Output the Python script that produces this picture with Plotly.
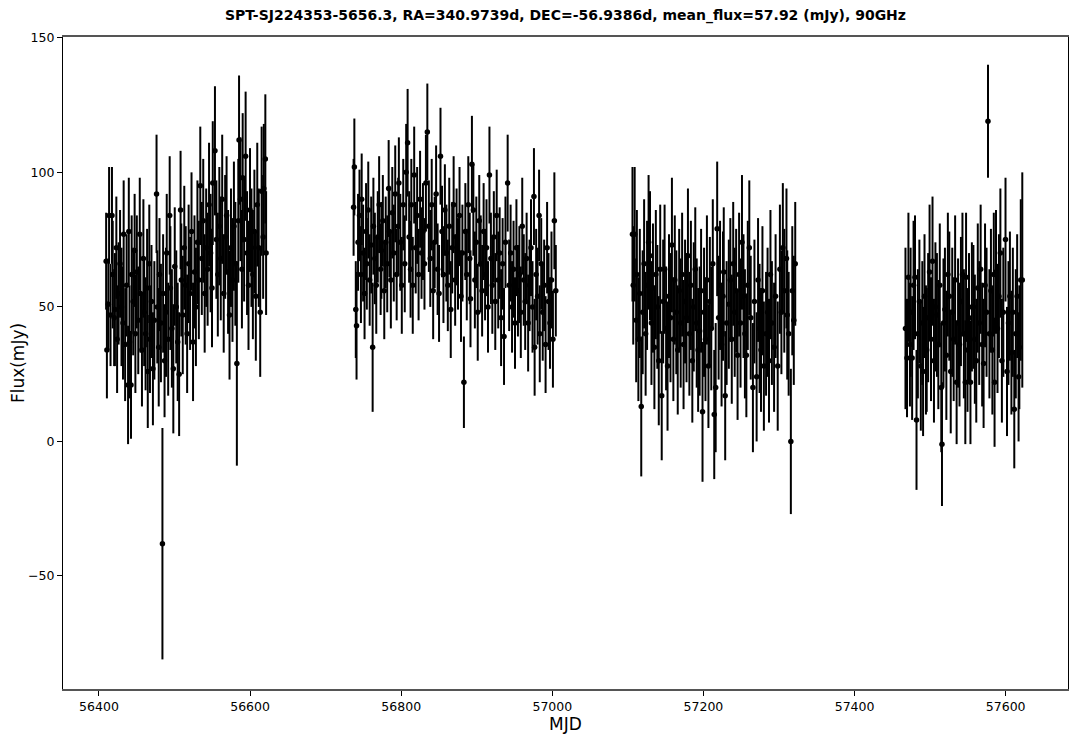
import plotly.graph_objects as go

# ---- data ----
mjd_s1 = [56409.5, 56410.5, 56412.4, 56413.4, 56415.3, 56417.2, 56418.2, 56420.1, 56421.1, 56423.0,
          56424.0, 56426.0, 56427.9, 56429.8, 56431.8, 56432.7, 56434.6, 56436.6, 56438.5, 56439.5,
          56440.4, 56442.4, 56443.3, 56445.3, 56447.2, 56448.2, 56450.1, 56452.0, 56454.0, 56454.9,
          56456.9, 56458.8, 56459.8, 56461.7, 56463.7, 56464.6, 56466.6, 56467.5, 56469.5, 56471.4,
          56473.3, 56476.2, 56477.2, 56479.1, 56480.1, 56482.0, 56484.0, 56484.9, 56486.8, 56488.7,
          56489.7, 56491.6, 56493.6, 56494.5, 56496.5, 56498.4, 56500.3, 56502.3, 56504.2, 56506.1,
          56508.0, 56509.0, 56510.9, 56512.9, 56514.8, 56516.7, 56518.7, 56520.6, 56522.5, 56524.5,
          56526.4, 56528.3, 56530.3, 56532.2, 56534.1, 56536.1, 56538.0, 56539.9, 56541.9, 56543.8,
          56545.7, 56547.7, 56549.6, 56550.6, 56553.5, 56555.4, 56557.3, 56559.3, 56561.2, 56563.1,
          56565.1, 56567.0, 56568.9, 56570.9, 56572.8, 56574.7, 56576.7, 56578.6, 56580.5, 56582.5,
          56584.4, 56585.4, 56587.3, 56589.2, 56590.2, 56592.1, 56594.1, 56596.0, 56597.9, 56599.9,
          56601.8, 56603.7, 56605.7, 56607.6, 56609.5, 56611.5, 56613.4, 56615.3, 56617.3, 56618.2,
          56620.2, 56621.2]
flux_s1 = [67, 34, 51, 84, 47, 84, 62, 46, 49, 72,
           38, 55, 66, 50, 44, 77, 36, 58, 21, 78,
           37, 21, 62, 52, 71, 40, 63, 45, 77, 55,
           34, 68, 48, 40, 57, 26, 66, 38, 52, 27,
           45, 92, 50, 35, 62, 44, -38, 55, 30, 48,
           70, 38, 84, 57, 42, 27, 65, 50, 37, 25,
           86, 60, 47, 72, 58, 40, 66, 55, 78, 37,
           63, 50, 74, 60, 95, 68, 82, 55, 72, 64,
           88, 70, 57, 96, 108, 75, 62, 80, 68, 90,
           55, 76, 84, 63, 47, 72, 60, 80, 66, 29,
           82, 112, 90, 64, 98, 75, 106, 70, 58, 86,
           72, 62, 78, 54, 88, 72, 48, 93, 76, 94,
           105, 70]
err_s1 = [18, 18, 17, 18, 19, 18, 20, 18, 21, 19,
          20, 19, 20, 22, 21, 20, 21, 19, 22, 20,
          21, 20, 22, 20, 21, 22, 21, 20, 21, 22,
          21, 22, 20, 21, 22, 21, 22, 20, 21, 21,
          22, 22, 21, 22, 21, 22, 43, 22, 21, 24,
          22, 21, 22, 23, 22, 24, 22, 21, 22, 23,
          22, 21, 22, 23, 22, 22, 22, 21, 22, 22,
          21, 22, 23, 22, 22, 21, 23, 22, 22, 21,
          23, 22, 22, 23, 24, 22, 23, 22, 23, 24,
          22, 23, 22, 23, 24, 22, 23, 24, 23, 38,
          23, 24, 23, 22, 24, 23, 24, 23, 24, 23,
          22, 24, 23, 24, 23, 22, 24, 24, 23, 24,
          24, 23]

mjd_s2 = [56737.0, 56738.0, 56739.9, 56740.9, 56742.9, 56744.8, 56746.7, 56747.7, 56749.6, 56751.5,
          56753.5, 56754.5, 56756.4, 56758.3, 56760.3, 56762.2, 56763.2, 56765.1, 56767.0, 56769.0,
          56770.8, 56772.8, 56773.8, 56775.7, 56777.6, 56779.5, 56781.5, 56783.4, 56784.4, 56786.3,
          56788.2, 56790.2, 56792.1, 56794.0, 56796.0, 56796.9, 56798.8, 56800.8, 56802.7, 56804.7,
          56806.6, 56808.5, 56810.5, 56812.4, 56813.4, 56815.3, 56817.2, 56819.2, 56821.1, 56823.0,
          56825.0, 56826.9, 56828.8, 56830.8, 56832.7, 56834.6, 56836.6, 56838.5, 56840.4, 56842.3,
          56844.3, 56846.2, 56848.2, 56850.1, 56852.0, 56854.0, 56855.9, 56857.8, 56859.8, 56861.7,
          56863.6, 56865.6, 56867.5, 56869.4, 56871.4, 56873.3, 56875.2, 56877.2, 56879.1, 56881.0,
          56883.0, 56884.9, 56886.8, 56888.8, 56890.7, 56891.7, 56893.6, 56895.5, 56897.5, 56899.4,
          56901.3, 56903.3, 56905.2, 56907.1, 56909.1, 56911.0, 56912.9, 56914.9, 56916.8, 56918.7,
          56920.6, 56922.6, 56924.5, 56926.4, 56928.4, 56930.3, 56932.2, 56934.2, 56936.1, 56938.0,
          56940.9, 56942.9, 56944.8, 56946.7, 56948.7, 56950.6, 56952.5, 56954.5, 56956.4, 56958.3,
          56960.2, 56962.2, 56964.1, 56966.0, 56968.0, 56969.9, 56971.8, 56973.8, 56975.7, 56976.6,
          56978.6, 56980.5, 56982.5, 56983.4, 56985.3, 56987.3, 56989.2, 56991.1, 56993.1, 56995.0,
          56996.9, 56998.9, 57000.8, 57002.7, 57004.6]
flux_s2 = [87, 102, 49, 43, 74, 84, 62, 90, 70, 55,
           78, 66, 86, 60, 73, 35, 80, 68, 58, 76,
           88, 64, 71, 82, 56, 74, 66, 94, 78, 60,
           85, 70, 92, 62, 80, 96, 74, 58, 88, 66,
           100, 111, 76, 64, 88, 58, 99, 72, 84, 62,
           90, 70, 78, 66, 96, 115, 80, 68, 88, 56,
           74, 92, 64, 55, 106, 78, 62, 86, 70, 58,
           80, 49, 72, 88, 60, 76, 66, 84, 54, 70,
           22, 78, 62, 88, 68, 53, 103, 86, 60, 74,
           48, 82, 66, 56, 78, 62, 72, 50, 99, 68,
           58, 76, 52, 84, 60, 70, 46, 66, 39, 74,
           96, 58, 70, 50, 64, 44, 72, 56, 62, 48,
           80, 60, 52, 68, 44, 58, 72, 50, 91, 35,
           62, 54, 84, 40, 66, 48, 58, 36, 72, 52,
           44, 60, 38, 82, 56]
err_s2 = [18, 18, 18, 20, 18, 17, 18, 17, 18, 17,
          18, 17, 18, 17, 18, 24, 18, 17, 18, 17,
          18, 17, 18, 17, 18, 17, 18, 18, 17, 18,
          17, 18, 18, 17, 18, 17, 18, 18, 17, 18,
          18, 20, 17, 18, 17, 18, 18, 17, 18, 17,
          18, 17, 18, 17, 18, 18, 17, 18, 17, 18,
          17, 18, 17, 18, 18, 17, 18, 17, 18, 17,
          18, 18, 17, 18, 17, 18, 17, 18, 17, 18,
          17, 18, 17, 18, 17, 18, 18, 17, 18, 17,
          18, 17, 18, 17, 18, 17, 18, 17, 18, 17,
          18, 17, 18, 17, 18, 17, 18, 17, 18, 17,
          18, 17, 18, 17, 18, 17, 18, 17, 18, 17,
          18, 17, 18, 17, 18, 17, 18, 17, 18, 18,
          17, 18, 17, 18, 17, 18, 17, 18, 17, 18,
          17, 18, 18, 18, 17]

mjd_s3 = [57106.1, 57107.1, 57109.0, 57111.0, 57111.9, 57113.9, 57115.8, 57117.7, 57119.6, 57121.5,
          57123.5, 57125.4, 57127.4, 57129.3, 57131.2, 57133.2, 57135.1, 57137.0, 57139.0, 57140.9,
          57142.8, 57144.8, 57146.7, 57148.6, 57150.6, 57152.5, 57154.4, 57156.4, 57158.3, 57160.2,
          57162.1, 57164.1, 57166.0, 57167.9, 57169.9, 57171.8, 57173.7, 57175.7, 57177.6, 57179.5,
          57181.4, 57183.4, 57185.3, 57187.2, 57189.2, 57191.1, 57193.0, 57195.0, 57196.9, 57198.8,
          57200.8, 57202.7, 57204.6, 57206.6, 57208.5, 57210.4, 57212.4, 57214.3, 57216.2, 57218.2,
          57220.1, 57222.0, 57224.0, 57225.9, 57226.9, 57228.8, 57230.7, 57233.6, 57235.6, 57237.5,
          57239.4, 57241.4, 57243.3, 57245.2, 57247.2, 57249.1, 57251.0, 57253.0, 57254.9, 57256.8,
          57258.7, 57260.7, 57262.6, 57265.5, 57267.5, 57270.4, 57272.3, 57274.3, 57276.2, 57278.1,
          57280.0, 57282.9, 57284.9, 57286.8, 57288.7, 57290.6, 57293.5, 57295.5, 57298.3, 57301.2,
          57303.2, 57305.1, 57307.0, 57309.9, 57310.9, 57312.8, 57315.7, 57317.6, 57319.6, 57321.5]
flux_s3 = [77, 58, 77, 45, 62, 38, 55, 13, 48, 66,
           40, 58, 74, 69, 44, 57, 35, 62, 50, 30,
           64, 17, 52, 64, 42, 28, 54, 46, 73, 38,
           60, 48, 34, 56, 44, 62, 36, 52, 46, 69,
           40, 58, 30, 50, 64, 44, 34, 41, 56, 11,
           48, 38, 60, 28, 52, 42, 66, 10, 20, 79,
           46, 58, 36, 54, 63, 17, 44, 51, 60, 38,
           66, 48, 56, 32, 62, 44, 74, 54, 40, 32,
           58, 72, 46, 20, 52, 24, 60, 42, 34, 56,
           28, 40, 48, 30, 62, 44, 35, 54, 28, 64,
           48, 72, 56, 68, 47, 40, 0, 56, 45, 66]
err_s3 = [25, 22, 25, 23, 24, 23, 24, 26, 23, 24,
          23, 24, 25, 24, 23, 24, 23, 24, 23, 24,
          24, 24, 23, 24, 23, 24, 23, 24, 25, 23,
          24, 23, 24, 23, 24, 23, 24, 23, 24, 25,
          23, 24, 23, 24, 23, 24, 23, 24, 23, 26,
          24, 23, 24, 23, 24, 23, 24, 24, 24, 25,
          23, 24, 23, 24, 24, 24, 23, 24, 23, 24,
          23, 24, 23, 24, 23, 24, 25, 23, 24, 23,
          24, 25, 23, 24, 23, 24, 23, 24, 23, 24,
          24, 23, 24, 23, 24, 23, 24, 23, 24, 24,
          23, 24, 23, 26, 24, 23, 27, 24, 24, 23]

mjd_s4 = [57467.4, 57469.4, 57471.3, 57473.3, 57474.2, 57476.2, 57478.1, 57480.0, 57482.0, 57483.8,
          57485.8, 57487.7, 57489.7, 57490.7, 57492.6, 57494.5, 57495.5, 57497.4, 57499.3, 57501.2,
          57503.2, 57505.1, 57507.0, 57509.0, 57510.9, 57512.8, 57514.8, 57515.7, 57517.7, 57519.6,
          57521.5, 57523.5, 57525.4, 57527.3, 57529.3, 57531.2, 57533.1, 57535.1, 57537.0, 57538.9,
          57540.8, 57542.8, 57544.7, 57546.6, 57547.6, 57549.5, 57551.5, 57553.4, 57555.3, 57557.3,
          57559.2, 57561.1, 57563.1, 57565.0, 57566.9, 57568.9, 57570.8, 57572.7, 57574.7, 57576.6,
          57578.5, 57580.5, 57582.4, 57584.3, 57585.3, 57587.2, 57589.2, 57591.1, 57593.0, 57595.0,
          57596.9, 57599.8, 57601.8, 57603.7, 57605.6, 57607.6, 57609.5, 57611.4, 57613.4, 57615.2,
          57617.1, 57618.1, 57620.0, 57622.0]
flux_s4 = [42, 31, 61, 36, 48, 31, 58, 61, 8, 40,
           52, 28, 44, 26, 54, 34, 34, 46, 63, 38,
           67, 30, 50, 47, 36, 58, 20, -1, 44, 49,
           32, 62, 54, 26, 48, 38, 60, 22, 44, 36,
           52, 62, 40, 22, 61, 34, 46, 22, 50, 50,
           38, 30, 57, 44, 64, 36, 29, 58, 48, 119,
           40, 56, 34, 62, 22, 63, 42, 54, 70, 30,
           48, 75, 26, 44, 54, 33, 48, 12, 40, 54,
           24, 35, 60, 60]
err_s4 = [30, 22, 24, 23, 24, 23, 24, 23, 26, 24,
          23, 24, 23, 24, 23, 24, 23, 24, 25, 23,
          24, 23, 24, 23, 24, 23, 24, 23, 24, 23,
          24, 23, 24, 23, 24, 23, 24, 23, 24, 23,
          24, 23, 24, 23, 24, 23, 24, 23, 24, 23,
          24, 23, 24, 23, 24, 23, 24, 23, 24, 21,
          24, 23, 24, 23, 24, 23, 24, 23, 24, 23,
          24, 23, 24, 23, 24, 23, 24, 22, 24, 23,
          24, 23, 30, 40]

x_ticks = [56400, 56600, 56800, 57000, 57200, 57400, 57600]
y_ticks = [-50, 0, 50, 100, 150]
title_text = "SPT-SJ224353-5656.3, RA=340.9739d, DEC=-56.9386d, mean_flux=57.92 (mJy), 90GHz"

seasons = [(mjd_s1, flux_s1, err_s1), (mjd_s2, flux_s2, err_s2),
           (mjd_s3, flux_s3, err_s3), (mjd_s4, flux_s4, err_s4)]
xs, ys, es = [], [], []
for m, f, e in seasons:
    n = min(len(m), len(f), len(e))
    xs += m[:n]
    ys += f[:n]
    es += e[:n]

fig = go.Figure()
fig.add_trace(go.Scatter(
    x=xs, y=ys, mode="markers",
    marker=dict(color="black", size=5.5),
    error_y=dict(type="data", array=es, visible=True, color="black",
                 thickness=2.0, width=0),
    showlegend=False,
))

font_family = "DejaVu Sans"
W, H = 1073, 731
fig.update_layout(
    width=W, height=H,
    margin=dict(l=55, r=13, t=29, b=50, autoexpand=False),
    paper_bgcolor="white", plot_bgcolor="white",
    font=dict(family=font_family, color="black", size=12),
    title=dict(text="<b>" + title_text + "</b>", x=0.5, xanchor="center",
               xref="paper", y=1 - 2 / H, yref="container", yanchor="top",
               font=dict(family=font_family, size=14, color="black")),
)
fig.update_xaxes(
    range=[56352.4, 57682.5], tickvals=x_ticks, ticktext=[str(v) for v in x_ticks],
    automargin=False,
    showgrid=False, zeroline=False, showline=True, linecolor="#555555", linewidth=1.6,
    mirror=True, ticks="outside", ticklen=5, tickwidth=1.2, tickcolor="black",
    tickfont=dict(size=12.5),
    title=dict(text="MJD", font=dict(size=17), standoff=2),
)
fig.update_yaxes(
    range=[-92.0, 150.3], tickvals=y_ticks,
    automargin=False,
    showgrid=False, zeroline=False, showline=True, linecolor="black", linewidth=1.2,
    mirror=True, ticks="outside", ticklen=5, tickwidth=1.2, tickcolor="black",
    tickfont=dict(size=12.5),
    title=dict(text="Flux(mJy)", font=dict(size=17), standoff=4),
)

fig.write_html("out.html")
